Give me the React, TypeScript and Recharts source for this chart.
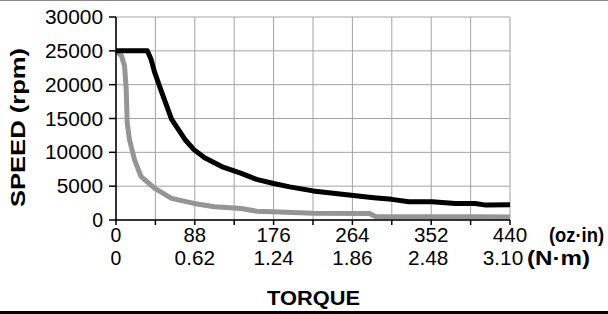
import React from "react"
import { LineChart, Line, XAxis, YAxis, CartesianGrid } from "recharts"

// torque in oz·in, speed in rpm
const blackTorque = [0, 35, 39, 43, 51, 62, 77, 87, 99, 118, 140, 157, 176, 194, 220, 250, 288, 308, 327, 353, 379, 401, 413, 440]
const blackSpeed = [25000, 25000, 23800, 21900, 18900, 14900, 11900, 10400, 9200, 7900, 6900, 6000, 5400, 4900, 4300, 3850, 3300, 3050, 2700, 2700, 2450, 2450, 2200, 2250]

const grayTorque = [0, 6, 9.5, 11.4, 12.5, 15, 20.7, 28, 43, 62, 87, 110, 140, 157, 183, 220, 283, 290, 400, 440]
const graySpeed = [25000, 24300, 22800, 19400, 14400, 11900, 8900, 6400, 4700, 3200, 2450, 1950, 1700, 1300, 1200, 1000, 950, 500, 480, 450]

const torqueTicks = [0, 44, 88, 132, 176, 220, 264, 308, 352, 396, 440]
const ozLabels = ["0", "88", "176", "264", "352", "440"]
const nmLabels = ["0", "0.62", "1.24", "1.86", "2.48", "3.10"]
const speedTicks = [0, 5000, 10000, 15000, 20000, 25000, 30000]

const blackData = blackTorque.map((t, i) => ({ torque: t, speed: blackSpeed[i] }))
const grayData = grayTorque.map((t, i) => ({ torque: t, speed: graySpeed[i] }))

const FONT = "Arial, 'Liberation Sans', Helvetica, sans-serif"
// last N·m labels sit a little left of their gridline in the original
const NM_SHIFT = [0, 0, 0, 0, -3, -7]

// the original type is a bit wider than Arial, so stretch to measured widths
const textWidth = (s: string) => {
  let w = 0
  for (const ch of s) w += ch === "." ? 6 : 11.8
  return w - 1
}

function Txt({ x, y, s, anchor }: { x: number; y: number; s: string; anchor: "start" | "middle" | "end" }) {
  return (
    <text
      x={x}
      y={y}
      textAnchor={anchor}
      textLength={textWidth(s)}
      lengthAdjust="spacingAndGlyphs"
      style={{ fontFamily: FONT, fontSize: 20 }}
      fill="#000"
    >
      {s}
    </text>
  )
}

function XTick(props: any) {
  const { x, payload } = props
  const i = torqueTicks.indexOf(payload.value)
  if (i < 0 || i % 2 === 1) return <g />
  const k = i / 2
  return (
    <g>
      <Txt x={x} y={242} s={ozLabels[k]} anchor="middle" />
      <Txt x={x + NM_SHIFT[k]} y={265} s={nmLabels[k]} anchor="middle" />
    </g>
  )
}

function YTick(props: any) {
  const { y, payload } = props
  return <Txt x={103} y={y + 7} s={String(payload.value)} anchor="end" />
}

function XLabels() {
  const st = { fontFamily: FONT, fontWeight: "bold" as const }
  return (
    <g fill="#000">
      <text x={267} y={305} style={{ ...st, fontSize: 21 }} textLength={93} lengthAdjust="spacingAndGlyphs">TORQUE</text>
      <text x={549} y={242} style={{ ...st, fontSize: 20 }} textLength={55} lengthAdjust="spacingAndGlyphs">(oz·in)</text>
      <text x={527} y={265} style={{ ...st, fontSize: 21 }} textLength={63} lengthAdjust="spacingAndGlyphs">(N·m)</text>
    </g>
  )
}

function YLabel() {
  return (
    <text
      x={0}
      y={0}
      transform="translate(25, 207) rotate(-90)"
      style={{ fontFamily: FONT, fontWeight: "bold", fontSize: 21 }}
      textLength={159}
      lengthAdjust="spacingAndGlyphs"
      fill="#000"
    >
      SPEED (rpm)
    </text>
  )
}

export default function App() {
  return (
    <div style={{ position: "relative", width: 608, height: 314, background: "#fff" }}>
      <style>{"body{margin:0}"}</style>
      <div style={{ position: "absolute", left: 0, top: 0, width: 608, height: 1, background: "#8a8a8a" }} />
      <div style={{ position: "absolute", left: 0, top: 311, width: 608, height: 3, background: "#000" }} />
      <LineChart width={608} height={314} margin={{ top: 17, right: 98, bottom: 0, left: 0 }}>
        <CartesianGrid stroke="#a3a3a3" strokeWidth={1} />
        <XAxis
          type="number"
          dataKey="torque"
          domain={[0, 440]}
          ticks={torqueTicks}
          height={94}
          axisLine={{ stroke: "#000", strokeWidth: 1.5 }}
          tickLine={{ stroke: "#000", strokeWidth: 1.5 }}
          tickSize={5}
          tick={<XTick />}
          interval={0}
          label={{ content: () => <XLabels /> }}
        />
        <YAxis
          type="number"
          domain={[0, 30000]}
          ticks={speedTicks}
          width={116}
          axisLine={{ stroke: "#000", strokeWidth: 1.5 }}
          tickLine={{ stroke: "#000", strokeWidth: 1.5 }}
          tickSize={7}
          tick={<YTick />}
          interval={0}
          label={{ content: () => <YLabel /> }}
        />
        <Line
          data={grayData}
          dataKey="speed"
          type="linear"
          stroke="#959595"
          strokeWidth={5}
          strokeLinejoin="round"
          dot={false}
          isAnimationActive={false}
        />
        <Line
          data={blackData}
          dataKey="speed"
          type="linear"
          stroke="#000"
          strokeWidth={5}
          strokeLinejoin="round"
          dot={false}
          isAnimationActive={false}
        />
      </LineChart>
    </div>
  )
}
